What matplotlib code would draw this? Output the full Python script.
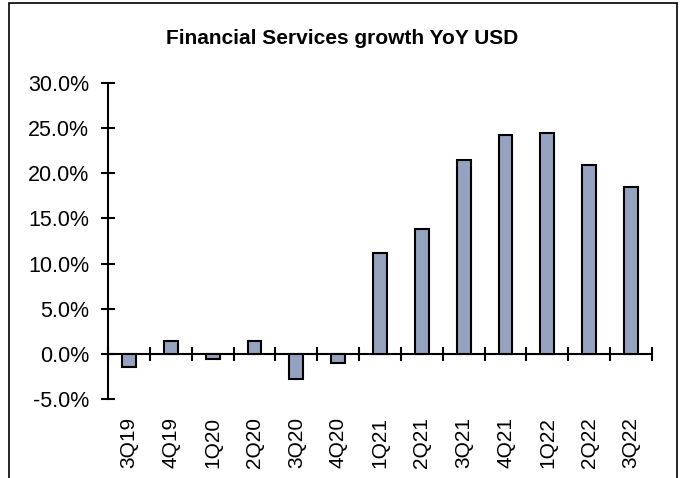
import numpy as np
import matplotlib
matplotlib.use('Agg')
import matplotlib.pyplot as plt
from matplotlib.patches import Rectangle
from matplotlib.ticker import FuncFormatter

quarters = ['3Q19', '4Q19', '1Q20', '2Q20', '3Q20', '4Q20', '1Q21',
            '2Q21', '3Q21', '4Q21', '1Q22', '2Q22', '3Q22']
growth = [-1.4, 1.4, -0.6, 1.4, -2.8, -1.0, 11.2,
          13.8, 21.5, 24.2, 24.4, 20.9, 18.5]

plt.rcParams['font.family'] = ['Liberation Sans', 'DejaVu Sans']

fig = plt.figure(figsize=(6.84, 4.78), dpi=100)
ax = fig.add_axes([108 / 684, 1 - 399.3 / 478, 544 / 684, (399.3 - 82.7) / 478])

x = np.arange(len(quarters))
ax.bar(x, growth, width=0.33, color='#95A3C0', edgecolor='black', linewidth=1.5, zorder=3)

ymin, ymax = -5, 30
ax.set_ylim(ymin, ymax)
ax.set_xlim(-0.5, len(quarters) - 0.5)
ax.set_yticks(np.arange(-5, 31, 5))
ax.yaxis.set_major_formatter(FuncFormatter(lambda v, p: f'{v:.1f}%'))
ax.tick_params(axis='y', direction='inout', length=10, width=1.5, labelsize=15.5, pad=8.6)

ax.set_xticks(x)
ax.set_xticklabels(quarters, rotation=90)
ax.tick_params(axis='x', length=0, labelsize=15, pad=13)

for s in ['top', 'right', 'bottom']:
    ax.spines[s].set_visible(False)
ax.spines['left'].set_linewidth(1.5)

# category axis crossing at zero
sec = ax.secondary_xaxis((0 - ymin) / (ymax - ymin))
sec.set_xticks(np.arange(-0.5, len(quarters)))
sec.set_xticklabels([])
sec.tick_params(direction='inout', length=10, width=1.5)
sec.spines['bottom'].set_linewidth(1.5)

fig.text(0.5, 1 - 38 / 478, 'Financial Services growth YoY USD',
         ha='center', va='center', fontsize=15, fontweight='bold')

fig.add_artist(Rectangle((9 / 684, -0.1), 668 / 684, 1.1 - 3 / 478,
                         transform=fig.transFigure, fill=False,
                         edgecolor='black', linewidth=1.2))

fig.savefig('out.png', dpi=100)
